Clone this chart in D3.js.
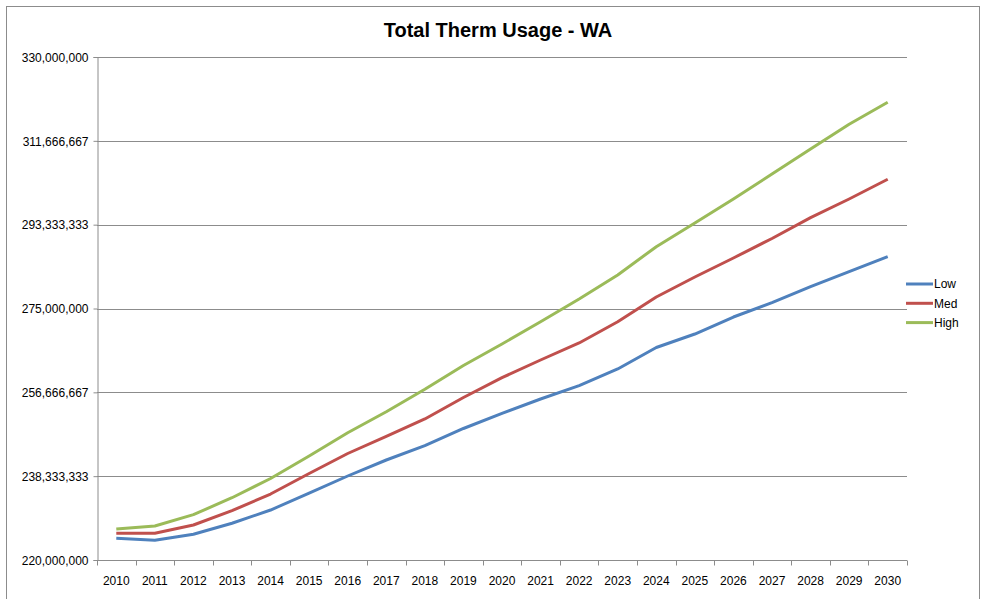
<!DOCTYPE html>
<html>
<head>
<meta charset="utf-8">
<script src="https://cdn.jsdelivr.net/npm/d3@7"></script>
<style>
  body { margin:0; background:#fff; }
  text { font-family:"Liberation Sans", Arial, sans-serif; fill:#000; }
</style>
</head>
<body>
<div id="chart"></div>
<script>
// values (therms)
const years = ["2010","2011","2012","2013","2014","2015","2016","2017","2018","2019","2020",
               "2021","2022","2023","2024","2025","2026","2027","2028","2029","2030"];
const low  = [224.75,224.31,225.62,228.03,230.93,234.65,238.37,241.87,245.0,248.76,252.08,
              255.21,258.12,261.77,266.47,269.42,273.14,276.27,279.77,283.05,286.33].map(v=>v*1e6);
const med  = [225.84,225.84,227.65,230.78,234.43,238.92,243.29,247.01,250.84,255.54,259.87,
              263.74,267.46,272.11,277.52,281.89,286.04,290.31,294.86,298.95,303.26].map(v=>v*1e6);
const high = [226.78,227.44,229.91,233.62,237.82,242.74,247.84,252.43,257.33,262.54,267.24,
              272.11,277.08,282.33,288.52,293.70,298.95,304.41,309.9,315.3,320.09].map(v=>v*1e6);
const seriesNames = ["Low","Med","High"];
const yTicks = [220000000,238333333,256666667,275000000,293333333,311666667,330000000];

const W = 982, H = 599;
const m = { top:57, right:75, bottom:39, left:97 };
const iw = 907 - m.left, ih = 560 - m.top;

const svg = d3.select("#chart").append("svg").attr("width", W).attr("height", H);

// outer chart frame
svg.append("rect").attr("x",6.5).attr("y",6.5).attr("width",973).attr("height",600)
  .attr("fill","none").attr("stroke","#8c8c8c").attr("stroke-width",1);

svg.append("text").attr("x",498).attr("y",37).attr("text-anchor","middle")
  .style("font-size","20px").style("font-weight","bold").text("Total Therm Usage - WA");

const g = svg.append("g").attr("transform",`translate(${m.left},${m.top})`);

const x = d3.scaleBand().domain(years).range([0, iw]);
const y = d3.scaleLinear().domain([220000000, 330000000]).range([ih, 0]);
const color = d3.scaleOrdinal().domain(seriesNames).range(["#4F81BD","#C0504D","#9BBB59"]);

// gridlines
g.append("g").selectAll("line").data(yTicks.slice(1)).enter().append("line")
  .attr("x1",0).attr("x2",iw)
  .attr("y1",d=>Math.round(y(d))+0.5).attr("y2",d=>Math.round(y(d))+0.5)
  .attr("stroke","#8c8c8c");

// y axis
const gy = g.append("g").attr("transform","translate(0.5,0)")
  .call(d3.axisLeft(y).tickValues(yTicks).tickFormat(d3.format(",")).tickSize(4).tickPadding(5));
gy.select(".domain").attr("stroke","#8c8c8c");
gy.selectAll(".tick line").attr("stroke","#8c8c8c");
gy.selectAll("text").style("font-size","12px").attr("dy","0.35em");

// x axis: ticks sit between categories like Excel
const gx = g.append("g").attr("transform",`translate(0,${ih+0.5})`);
gx.append("line").attr("x1",0).attr("x2",iw).attr("stroke","#8c8c8c");
gx.selectAll(".xt").data(years.concat(["end"])).enter().append("line")
  .attr("x1",(d,i)=>Math.round(i*x.step())+0.5).attr("x2",(d,i)=>Math.round(i*x.step())+0.5)
  .attr("y1",0).attr("y2",5).attr("stroke","#8c8c8c");
gx.selectAll("text").data(years).enter().append("text")
  .attr("x",d=>x(d)+x.bandwidth()/2).attr("y",24)
  .attr("text-anchor","middle").style("font-size","12px").text(d=>d);

// lines
const line = d3.line().x((d,i)=>x(years[i])+x.bandwidth()/2).y(d=>y(d));
[low, med, high].forEach((vals,k)=>{
  g.append("path").datum(vals).attr("d",line)
    .attr("fill","none").attr("stroke",color(seriesNames[k]))
    .attr("stroke-width",3).attr("stroke-linejoin","round");
});

// legend
const lg = svg.append("g").attr("transform","translate(906,284)");
seriesNames.forEach((s,i)=>{
  lg.append("line").attr("x1",0).attr("x2",27).attr("y1",i*19.3).attr("y2",i*19.3)
    .attr("stroke",color(s)).attr("stroke-width",3);
  lg.append("text").attr("x",28).attr("y",i*19.3).attr("dy","0.35em")
    .style("font-size","12px").text(s);
});
</script>
</body>
</html>
